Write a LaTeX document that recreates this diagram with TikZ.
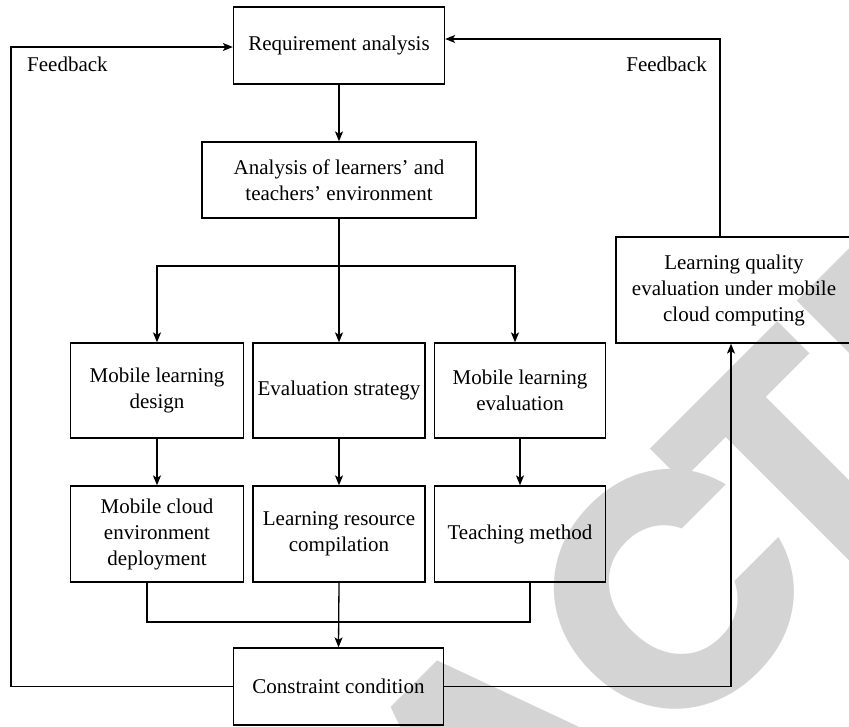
\documentclass[tikz,border=0pt]{standalone}
\usepackage{fontspec}
\setmainfont{Liberation Serif}
\newfontfamily\wmfont{Poppins}
\usetikzlibrary{arrows.meta}
\definecolor{wmgray}{RGB}{212,212,212}

\begin{document}
\begin{tikzpicture}[x=1pt,y=-1pt,
  box/.style={draw, line width=1.3pt, inner sep=0pt, align=center,
              font=\fontsize{21}{26}\selectfont},
  lbl/.style={inner sep=0pt, font=\fontsize{21}{26}\selectfont},
  ln/.style={line width=1.3pt},
  arr/.style={line width=1.3pt, -{Stealth[length=10pt,width=8pt,inset=2.5pt]}},
  wm/.style={inner sep=0pt, outer sep=0pt, rotate=45, text=wmgray,
             font=\wmfont\bfseries\fontsize{332}{332}\selectfont}
]
\useasboundingbox (0,0) rectangle (849,727);
\clip (0,0) rectangle (849,727);
\fill[white] (0,0) rectangle (849,727);

% watermark lettering behind the chart (baseline runs at 45 degrees)
\coordinate (wmC) at (666,762);
\coordinate (wmT) at (809,619.5);
\node[wm, anchor=base east] (wmhead) at (wmC) {RETRA};
\node[wm, anchor=base west] (wmmid) at (wmC) {C};
\node[wm, anchor=base west] (wmtail) at (wmT) {TED};

% boxes
\node[box, minimum width=211pt, minimum height=77pt] (req) at (339,45.5) {Requirement analysis};
\node[box, minimum width=274pt, minimum height=76pt] (ana) at (339,180) {Analysis of learners' and\\teachers' environment};

\node[box, minimum width=173pt, minimum height=95pt] (b1) at (157,390.5) {Mobile learning\\design};
\node[box, minimum width=172pt, minimum height=95pt] (b2) at (339,390.5) {Evaluation strategy};
\node[box, minimum width=171pt, minimum height=95pt] (b3) at (520,390.5) {Mobile learning\\evaluation};

\node[box, minimum width=173pt, minimum height=96pt] (b4) at (157,534) {Mobile cloud\\environment\\deployment};
\node[box, minimum width=172pt, minimum height=96pt] (b5) at (339,534) {Learning resource\\compilation};
\node[box, minimum width=171pt, minimum height=96pt] (b6) at (520,534) {Teaching method};

\node[box, minimum width=210pt, minimum height=77pt] (con) at (338.5,686.5) {Constraint condition};

\node[box, minimum width=236pt, minimum height=106pt] (lq) at (734,290) {Learning quality\\evaluation under mobile\\cloud computing};

% labels
\node[lbl, anchor=west] (fbl) at (27,64) {Feedback};
\node[lbl, anchor=east] (fbr) at (707,64) {Feedback};

% main flow
\draw[arr] (req.south) -- (ana.north);
\coordinate (split) at (339,266);
\coordinate (splitL) at (157,266);
\coordinate (splitR) at (515,266);
\draw[ln] (ana.south) -- (split);
\draw[arr] (split) -- (splitL) -- (b1.north);
\draw[arr] (split) -- (b2.north);
\draw[arr] (split) -- (splitR) -- (b3.north -| splitR);

\draw[arr] (b1.south) -- (b4.north);
\draw[arr] (b2.south) -- (b5.north);
\draw[arr] (b3.south) -- (b6.north);

\coordinate (mL) at (147,622);
\coordinate (mR) at (530,622);
\draw[ln] (b4.south -| mL) -- (mL) -- (mR) -- (b6.south -| mR);
\draw[arr] (b5.south) -- (con.north);

% feedback loops
\coordinate (fbL1) at (11,686.5);
\coordinate (fbL2) at (11,47);
\draw[arr] (con.west) -- (fbL1) -- (fbL2) -- (req.west |- fbL2);

\coordinate (qR) at (731,686.5);
\draw[arr] (con.east) -- (qR) -- (lq.south -| qR);

\coordinate (fbR1) at (720,39);
\draw[arr] (lq.north -| fbR1) -- (fbR1) -- (req.east |- fbR1);
\end{tikzpicture}
\end{document}
